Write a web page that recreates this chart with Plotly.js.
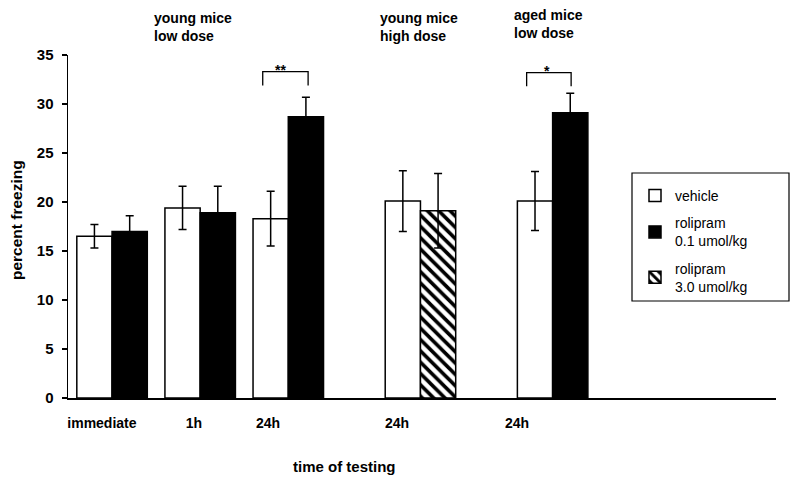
<!DOCTYPE html>
<html>
<head>
<meta charset="utf-8">
<script src="https://cdn.plot.ly/plotly-3.0.1.min.js"></script>
<style>
  html, body { margin: 0; padding: 0; background: #fff; }
  #chart { width: 800px; height: 483px; }
</style>
</head>
<body>
<div id="chart"></div>
<script>
// percent freezing, mean +/- SE
const groupLabels = ['immediate', '1h', '24h', '24h', '24h'];
const vehicleMean = [16.5, 19.4, 18.3, 20.1, 20.1];
const vehicleSE   = [1.2, 2.2, 2.8, 3.1, 3.0];
const lowDoseMean = [17.0, 18.9, 28.7, null, 29.1];
const lowDoseSE   = [1.6, 2.7, 2.0, null, 2.0];
const highDoseMean = [null, null, null, 19.1, null];
const highDoseSE   = [null, null, null, 3.8, null];

// slot of each bar pair along the x axis, and where its label sits
const slots = [0, 2, 4, 7, 10];
const labelSlots = [-0.23, 1.86, 3.54, 6.47, 9.19];

const FONT = 'Liberation Sans, Arial, Helvetica, sans-serif';
const BW = 0.8;

function errs(se) { return { type: 'data', array: se, visible: true, color: '#000', thickness: 1.5, width: 4 }; }

const vehicle = {
    type: 'bar', name: 'vehicle', x: slots, y: vehicleMean,
    width: BW, offset: -BW, legendgroup: 'a',
    marker: { color: '#fff', line: { color: '#000', width: 1.5 } },
    error_y: errs(vehicleSE)
};
const lowDose = {
    type: 'bar', name: 'rolipram<br>0.1 umol/kg', x: slots, y: lowDoseMean,
    width: BW, offset: 0, legendgroup: 'b',
    marker: { color: '#000', line: { color: '#000', width: 1.5 } },
    error_y: errs(lowDoseSE)
};
const highDose = {
    type: 'bar', name: 'rolipram<br>3.0 umol/kg', x: slots, y: highDoseMean,
    width: BW, offset: 0, legendgroup: 'c',
    marker: { color: '#fff', line: { color: '#000', width: 1.5 },
              pattern: { shape: '\\', fgcolor: '#000', bgcolor: '#fff', size: 8, solidity: 0.45 } },
    error_y: errs(highDoseSE)
};

const bold = (s) => ({ family: FONT, size: s, color: '#000', weight: 'bold' });

// pixel -> paper helpers for plot area 68..776 x 55..398
const py = (p) => (398 - p) / 343;
const px = (p) => (p - 68) / 708;

const layout = {
    width: 800, height: 483,
    margin: { l: 68, r: 24, t: 55, b: 85 },
    paper_bgcolor: '#fff', plot_bgcolor: '#fff',
    barmode: 'overlay',
    font: { family: FONT, color: '#000' },
    xaxis: {
        range: [-1, 15.07], showgrid: false, zeroline: false,
        showline: true, linecolor: '#000', linewidth: 1.5,
        ticks: '', tickvals: labelSlots, ticktext: groupLabels,
        tickfont: bold(14), ticklabelstandoff: 12
    },
    yaxis: {
        range: [0, 35], dtick: 5, showgrid: false, zeroline: false,
        showline: true, linecolor: '#000', linewidth: 1.5,
        ticks: 'outside', ticklen: 5, tickwidth: 1.2, tickcolor: '#000',
        tickfont: bold(15), ticklabelstandoff: 5
    },
    showlegend: true,
    legend: {
        x: px(635), y: py(180), xanchor: 'left', yanchor: 'top',
        bgcolor: 'rgba(0,0,0,0)', borderwidth: 0,
        font: { family: FONT, size: 14, color: '#000' },
        traceorder: 'grouped', tracegroupgap: 6, itemclick: false
    },
    shapes: [
        // legend frame
        { type: 'rect', xref: 'paper', yref: 'paper', x0: px(632), x1: px(789), y0: py(301), y1: py(173),
          line: { color: '#000', width: 1.2 } },
        // significance brackets
        { type: 'path', xref: 'x', yref: 'y', path: 'M3.42,31.9 L3.42,33.3 L4.45,33.3 L4.45,31.9', line: { color: '#000', width: 1.3 } },
        { type: 'path', xref: 'x', yref: 'y', path: 'M9.41,31.8 L9.41,33.2 L10.42,33.2 L10.42,31.8', line: { color: '#000', width: 1.3 } }
    ],
    annotations: [
        { text: 'percent freezing', xref: 'paper', yref: 'paper', x: px(16), y: py(220), textangle: -90, xanchor: 'center', yanchor: 'middle', showarrow: false, font: bold(15.5) },
        { text: 'young mice<br>low dose', xref: 'x', yref: 'paper', x: 0.90, y: py(27.5), xanchor: 'left', yanchor: 'middle', align: 'left', showarrow: false, font: bold(14) },
        { text: 'young mice<br>high dose', xref: 'x', yref: 'paper', x: 6.03, y: py(27.5), xanchor: 'left', yanchor: 'middle', align: 'left', showarrow: false, font: bold(14) },
        { text: 'aged mice<br>low dose', xref: 'x', yref: 'paper', x: 9.08, y: py(24), xanchor: 'left', yanchor: 'middle', align: 'left', showarrow: false, font: bold(14) },
        { text: '**', xref: 'x', yref: 'paper', x: 3.83, y: py(60), showarrow: false, font: bold(14) },
        { text: '*', xref: 'x', yref: 'paper', x: 9.88, y: py(61), showarrow: false, font: bold(14) },
        { text: 'time of testing', xref: 'paper', yref: 'paper', x: px(344), y: py(466), xanchor: 'center', yanchor: 'middle', showarrow: false, font: bold(15) }
    ]
};

Plotly.newPlot('chart', [vehicle, lowDose, highDose], layout, { displayModeBar: false, staticPlot: true });
</script>
</body>
</html>
